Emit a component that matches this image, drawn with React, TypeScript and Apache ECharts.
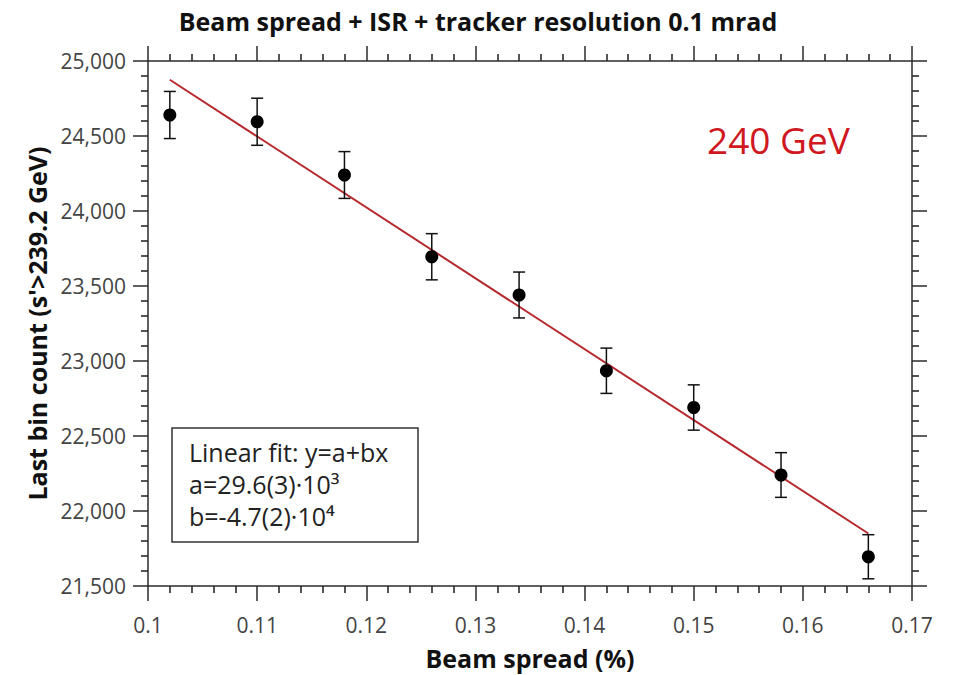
import React, { useEffect, useRef } from "react";
import * as echarts from "echarts";

// Beam spread (%) for each measured point
const beamSpread = [0.102, 0.11, 0.118, 0.126, 0.134, 0.142, 0.15, 0.158, 0.166];
// Last bin count (s' > 239.2 GeV)
const lastBinCount = [24640, 24595, 24240, 23695, 23440, 22935, 22690, 22240, 21695];
// Statistical uncertainty on each count
const countError = [157, 157, 156, 154, 153, 151, 151, 149, 147];
// Linear fit evaluated at the first and last beam-spread values
const fitX = [0.102, 0.166];
const fitY = [24875, 21850];

const xTicks = { min: 0.1, max: 0.17, step: 0.01 };
const yTicks = { min: 21500, max: 25000, step: 500 };

const FONT = "'Open Sans', 'DejaVu Sans', sans-serif";
const AXIS_COLOR = "#2b2b2b";

export default function App() {
  const ref = useRef<HTMLDivElement>(null);

  useEffect(() => {
    if (!ref.current) return;
    const chart = echarts.init(ref.current, undefined, { renderer: "svg" });

    const axisLine = { show: true, lineStyle: { color: AXIS_COLOR, width: 1.5 } };
    const axisTick = { show: true, inside: false, length: 15, lineStyle: { color: AXIS_COLOR, width: 1.5 } };
    const minorTick = { show: true, splitNumber: 5, length: 7, lineStyle: { color: AXIS_COLOR, width: 1.6 } };

    const xBase = {
      type: "value" as const,
      min: xTicks.min,
      max: xTicks.max,
      interval: xTicks.step,
      axisLine,
      axisTick,
      minorTick,
      splitLine: { show: false },
    };
    const yBase = {
      type: "value" as const,
      min: yTicks.min,
      max: yTicks.max,
      interval: yTicks.step,
      axisLine,
      axisTick,
      minorTick,
      splitLine: { show: false },
    };

    const errData = beamSpread.map((x, i) => [x, lastBinCount[i], countError[i]]);

    chart.setOption({
      animation: false,
      backgroundColor: "#ffffff",
      textStyle: { fontFamily: FONT },
      title: {
        text: "Beam spread + ISR + tracker resolution 0.1 mrad",
        left: "center",
        top: 3,
        textStyle: { fontFamily: FONT, fontSize: 25, fontWeight: "bold", color: "#111" },
      },
      grid: { left: 148, top: 61, right: 44, bottom: 87, containLabel: false },
      xAxis: [
        {
          ...xBase,
          position: "bottom",
          name: "Beam spread (%)",
          nameLocation: "middle",
          nameGap: 59,
          nameTextStyle: { fontFamily: FONT, fontSize: 25, fontWeight: "bold", color: "#111" },
          axisLabel: {
            margin: 28,
            fontFamily: FONT,
            fontSize: 21,
            color: "#444",
            formatter: (v: number) => String(parseFloat(v.toFixed(3))),
          },
        },
        { ...xBase, position: "top", axisLabel: { show: false } },
      ],
      yAxis: [
        {
          ...yBase,
          position: "left",
          name: "Last bin count (s'>239.2 GeV)",
          nameLocation: "middle",
          nameGap: 96,
          nameTextStyle: { fontFamily: FONT, fontSize: 25, fontWeight: "bold", color: "#111" },
          axisLabel: {
            margin: 22,
            fontFamily: FONT,
            fontSize: 21,
            color: "#444",
            formatter: (v: number) => Math.round(v).toLocaleString("en-US"),
          },
        },
        { ...yBase, position: "right", axisLabel: { show: false } },
      ],
      series: [
        {
          type: "line",
          name: "fit",
          data: fitX.map((x, i) => [x, fitY[i]]),
          showSymbol: false,
          lineStyle: { color: "#b52a2e", width: 2 },
          z: 3,
        },
        {
          type: "custom",
          name: "error",
          data: errData,
          renderItem: (_params: any, api: any) => {
            const x = api.value(0);
            const y = api.value(1);
            const e = api.value(2);
            const top = api.coord([x, y + e]);
            const bot = api.coord([x, y - e]);
            const cap = 6;
            const style = { stroke: "#111", lineWidth: 1.5 };
            return {
              type: "group",
              children: [
                { type: "line", shape: { x1: top[0], y1: top[1], x2: bot[0], y2: bot[1] }, style },
                { type: "line", shape: { x1: top[0] - cap, y1: top[1], x2: top[0] + cap, y2: top[1] }, style },
                { type: "line", shape: { x1: bot[0] - cap, y1: bot[1], x2: bot[0] + cap, y2: bot[1] }, style },
              ],
            };
          },
          z: 4,
        },
        {
          type: "scatter",
          name: "data",
          data: beamSpread.map((x, i) => [x, lastBinCount[i]]),
          symbol: "circle",
          symbolSize: 13,
          itemStyle: { color: "#000", opacity: 1 },
          z: 5,
        },
      ],
      graphic: [
        {
          type: "rect",
          shape: { x: 172, y: 428, width: 246, height: 114 },
          style: { fill: "#fff", stroke: "#333", lineWidth: 1.5 },
          z: 10,
        },
        {
          type: "text",
          x: 189,
          y: 436,
          style: {
            text: "Linear fit: y=a+bx\na=29.6(3)·10³\nb=-4.7(2)·10⁴",
            fontFamily: FONT,
            fontSize: 25,
            lineHeight: 32,
            fill: "#222",
          },
          z: 11,
        },
        {
          type: "text",
          x: 707,
          y: 121,
          style: {
            text: "240 GeV",
            fontFamily: FONT,
            fontSize: 37,
            fill: "#d0181f",
          },
          z: 11,
        },
      ],
    });

    return () => chart.dispose();
  }, []);

  return (
    <div
      ref={ref}
      style={{ position: "fixed", left: 0, top: 0, width: 956, height: 675 }}
    />
  );
}
